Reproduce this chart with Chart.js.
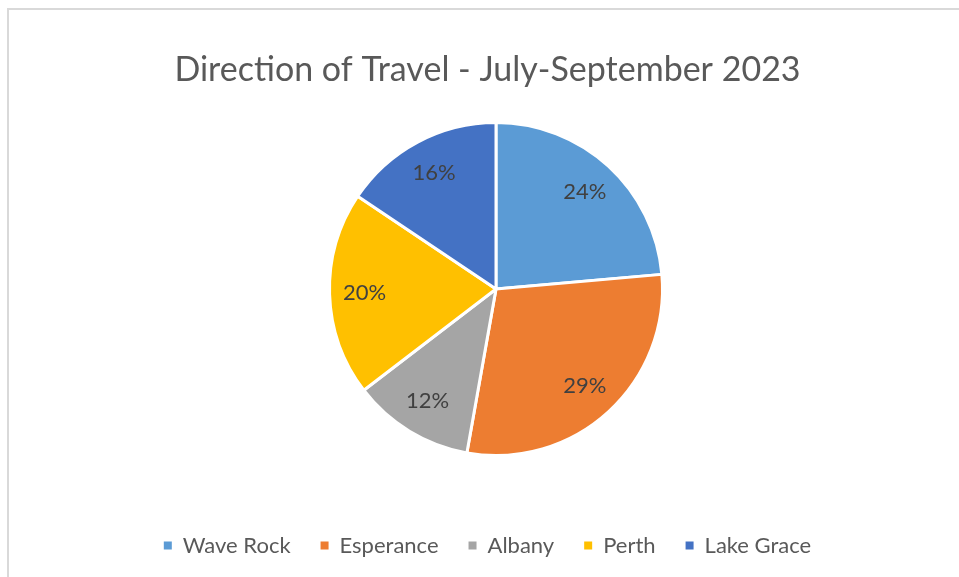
<!DOCTYPE html>
<html>
<head>
<meta charset="utf-8">
<script src="https://cdn.jsdelivr.net/npm/chart.js@4.4.0/dist/chart.umd.min.js"></script>
<style>
	html, body { margin: 0; padding: 0; background: #ffffff; }
	#wrap { position: relative; width: 959px; height: 577px; overflow: hidden; }
	#frame {
		position: absolute; left: 7px; top: 8px; right: -10px; bottom: -10px;
		border-top: 2px solid #d9d9d9; border-left: 2px solid #d9d9d9;
	}
	#myChart { position: absolute; left: 0; top: 0; }
</style>
</head>
<body>
<div id="wrap">
	<div id="frame"></div>
	<canvas id="myChart" width="959" height="577"></canvas>
</div>
<script>
const titleText = "Direction of Travel - July-September 2023";
const places = ["Wave Rock", "Esperance", "Albany", "Perth", "Lake Grace"];
const shares = [23.6, 29.2, 11.8, 19.8, 15.6];
const sliceColors = ["#5B9BD5", "#ED7D31", "#A5A5A5", "#FFC000", "#4472C4"];

const FONT = "Lato, 'Open Sans', sans-serif";

// percentage labels inside each slice
const sliceLabels = {
	id: "sliceLabels",
	afterDatasetsDraw(chart) {
		const { ctx } = chart;
		const meta = chart.getDatasetMeta(0);
		const total = shares.reduce((a, b) => a + b, 0);

		ctx.save();
		ctx.textAlign = "center";
		ctx.textBaseline = "middle";
		ctx.font = "22px " + FONT;
		ctx.fillStyle = "#404040";
		meta.data.forEach((arc, i) => {
			const { x, y, startAngle, endAngle, outerRadius } = arc.getProps(
				["x", "y", "startAngle", "endAngle", "outerRadius"],
				true
			);
			const mid = (startAngle + endAngle) / 2;
			const r = outerRadius * 0.79;
			const text = Math.round((shares[i] / total) * 100) + "%";
			ctx.fillText(text, x + Math.cos(mid) * r, y + Math.sin(mid) * r);
		});
		ctx.restore();
	},
};

// empty box on the left so the pie sits a little right of the title
const pieShift = {
	id: "pieShift",
	beforeInit(chart) {
		Chart.layouts.addBox(chart, {
			position: "left",
			weight: 0,
			fullSize: false,
			options: {},
			isHorizontal() {
				return false;
			},
			update(maxWidth, maxHeight) {
				this.width = 17;
				this.height = maxHeight;
			},
			draw() {},
		});
	},
};

const data = {
	labels: places,
	datasets: [
		{
			data: shares,
			backgroundColor: sliceColors,
			borderColor: "#ffffff",
			borderWidth: 3,
			hoverOffset: 0,
		},
	],
};

const config = {
	type: "pie",
	data: data,
	options: {
		responsive: false,
		animation: false,
		layout: {
			padding: { left: 16, right: 0, top: 0, bottom: 10.5 },
		},
		plugins: {
			title: {
				display: true,
				text: titleText,
				color: "#595959",
				font: { family: FONT, size: 34, weight: "normal" },
				padding: { top: 50, bottom: 30.2 },
			},
			legend: {
				position: "bottom",
				title: {
					display: true,
					text: " ",
					font: { size: 10, lineHeight: 1 },
					padding: { top: 37.5, bottom: 0 },
				},
				labels: {
					color: "#595959",
					font: { family: FONT, size: 22 },
					boxWidth: 8,
					boxHeight: 8,
					padding: 30,
					generateLabels(chart) {
						const base = Chart.overrides.pie.plugins.legend.labels.generateLabels(chart);
						return base.map((item) => ({ ...item, lineWidth: 0 }));
					},
				},
			},
			tooltip: { enabled: false },
		},
	},
	plugins: [pieShift, sliceLabels],
};

const pieChart = new Chart(document.getElementById("myChart"), config);
</script>
</body>
</html>
